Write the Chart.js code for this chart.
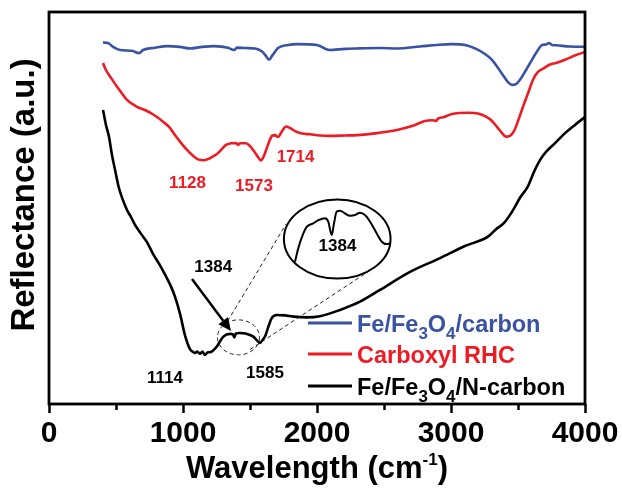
<!DOCTYPE html>
<html><head><meta charset="utf-8">
<script src="https://cdn.jsdelivr.net/npm/chart.js@4/dist/chart.umd.min.js"></script>
<style>html,body{margin:0;padding:0;background:#fff}#wrap{width:622px;height:488px}</style>
</head><body><div id="wrap"><canvas id="c" width="622" height="488"></canvas></div>
<script>
// ---- data (wavenumber, arbitrary reflectance units) ----
const xTicks = [0, 1000, 2000, 3000, 4000];
const minorTicks = [500, 1500, 2500, 3500];
const seriesLabels = ['Fe/Fe3O4/carbon', 'Carboxyl RHC', 'Fe/Fe3O4/N-carbon'];

const blueX = [403,440,478,530,619,672,701,791,881,978,1052,1142,1231,1336,1381,1403,1470,1537,1590,1619,1642,1664,1709,1784,1858,2000,2090,2209,2299,2470,2597,2769,2896,3007,3104,3187,3254,3306,3351,3396,3425,3455,3485,3515,3560,3604,3649,3679,3709,3731,3754,3784,3888,4000];
const blueY = [92.2,92.1,91.1,90.3,90.1,89.5,90.3,90.9,91.3,91.1,90.7,91.1,91.3,90.9,90.3,90.9,90.8,90.7,89.9,88.8,87.8,88.8,90.8,91.6,91.8,91.6,90.3,90.6,90.7,90.8,90.7,91.2,91.6,91.8,91.6,90.6,89.3,87.8,85.7,83.5,82.1,81.4,81.6,82.7,85.2,87.8,90.3,91.6,91.7,92.1,91.6,91.5,91.2,91.1];

const redX = [403,425,463,515,582,657,716,761,806,851,896,940,985,1030,1075,1112,1157,1201,1231,1261,1291,1321,1358,1396,1410,1425,1470,1500,1530,1560,1582,1604,1634,1664,1687,1709,1739,1769,1799,1836,1888,1948,2022,2090,2209,2299,2448,2597,2709,2806,2858,2888,2903,2948,3007,3127,3201,3261,3306,3343,3381,3410,3440,3470,3500,3537,3575,3612,3649,3694,3739,3784,3851,3925,4000];
const redY = [87.0,85.2,83.2,80.6,77.6,75.8,75.0,74.2,73.2,72.0,70.7,68.6,66.6,64.8,63.3,62.4,62.2,62.7,63.3,64.0,65.1,66.1,66.5,66.6,66.1,66.5,66.5,65.8,64.5,63.0,62.1,63.3,66.1,68.4,68.6,68.1,69.6,70.8,70.4,69.6,69.0,68.8,68.5,68.4,68.5,68.6,69.1,69.9,70.9,72.2,72.4,72.2,72.8,73.2,74.0,74.3,74.1,73.3,72.2,70.7,69.1,68.2,68.4,69.6,72.2,75.8,79.3,82.7,84.7,85.7,86.6,87.0,87.8,88.9,89.8];

const blackX = [403,425,448,470,493,522,552,582,612,642,687,731,776,821,866,910,940,978,1015,1052,1075,1090,1105,1127,1145,1164,1185,1201,1251,1301,1351,1372,1383,1395,1420,1475,1525,1550,1575,1595,1612,1640,1662,1699,1760,1823,1923,2022,2172,2321,2470,2694,2918,3104,3276,3336,3396,3455,3515,3575,3619,3664,3709,3784,3851,3925,4000];
const blackY = [75.0,71.2,68.1,63.5,59.7,55.1,52.0,49.5,47.7,45.7,43.4,41.3,38.3,35.8,33.0,30.0,27.4,23.0,17.5,14.0,13.3,13.0,13.4,12.8,13.4,12.5,13.2,13.2,14.6,17.2,17.9,17.8,17.0,18.0,18.1,17.9,17.2,16.3,15.6,16.4,17.2,20.0,21.9,22.7,22.6,22.3,22.1,22.4,24.0,26.1,29.1,33.7,37.2,40.3,42.7,44.6,46.2,49.0,52.6,55.6,59.2,62.2,64.3,66.8,69.1,71.2,73.2];

// magnified inset of the 1384 region (drawn in plot coordinates inside the circle)
const insetX = [1836,1860,1898,1923,1972,2010,2060,2084,2110,2127,2147,2172,2209,2246,2284,2321,2358,2396,2446,2483,2520,2545];
const insetY = [36.3,39.7,43.5,45.2,46.1,46.9,47.4,46.5,43.1,46.1,49.1,49.3,48.6,48.0,48.2,48.8,48.2,46.5,43.5,41.4,40.8,41.0];

const peakLabels = ['1128', '1573', '1714', '1114', '1585', '1384', '1384'];
const peakLabelX = [1034, 1530, 1840, 866, 1612, 1226, 2153];
const peakLabelY = [56.4, 55.6, 63.0, 6.6, 7.9, 34.8, 40.1];
const peakLabelSeries = [1, 1, 1, 2, 2, 2, 2];

const colors = ['#3953a4', '#ed1c24', '#000000'];
const FONT = "'Liberation Sans', Arial, sans-serif";

const pts = (xs, ys) => xs.map((v, i) => ({ x: v, y: ys[i] }));

const decor = {
  id: 'decor',
  afterDatasetsDraw(chart) {
    const { ctx, chartArea: a, scales: { x, y } } = chart;
    const px = v => x.getPixelForValue(v), py = v => y.getPixelForValue(v);
    ctx.save();
    // frame
    ctx.strokeStyle = '#000';
    ctx.lineWidth = 2.8;
    ctx.strokeRect(a.left, a.top, a.right - a.left, a.bottom - a.top);
    // minor ticks
    ctx.lineWidth = 2.5;
    minorTicks.forEach(t => {
      ctx.beginPath(); ctx.moveTo(Math.round(px(t)) + 0.5, a.bottom); ctx.lineTo(Math.round(px(t)) + 0.5, a.bottom + 6); ctx.stroke();
    });

    // inset circle
    const ell = (cx, cy, rw, rv) => {
      const X = px(cx), Y = py(cy);
      ctx.beginPath();
      ctx.ellipse(X, Y, px(cx + rw) - X, py(cy - rv) - Y, 0, 0, Math.PI * 2);
      ctx.stroke();
    };
    ctx.lineWidth = 2;
    ctx.setLineDash([]);
    ell(2151, 42.1, 398, 10.1);
    // small dashed ellipse + connecting dashed lines
    ctx.lineWidth = 1;
    ctx.strokeStyle = '#222';
    ctx.setLineDash([4, 3]);
    ell(1414, 17.0, 157, 4.46);
    const seg = (x1, y1, x2, y2) => { ctx.beginPath(); ctx.moveTo(px(x1), py(y1)); ctx.lineTo(px(x2), py(y2)); ctx.stroke(); };
    seg(1306, 19.6, 1769, 45.9);
    seg(1500, 13.9, 2366, 33.4);
    ctx.setLineDash([]);

    // arrow to 1384
    const ax1 = px(1067), ay1 = py(31.9), ax2 = px(1358), ay2 = py(18.6);
    const ang = Math.atan2(ay2 - ay1, ax2 - ax1);
    const hl = 13, hw = 6;
    ctx.strokeStyle = '#000';
    ctx.fillStyle = '#000';
    ctx.lineWidth = 2.5;
    ctx.beginPath(); ctx.moveTo(ax1, ay1);
    ctx.lineTo(ax2 - Math.cos(ang) * hl, ay2 - Math.sin(ang) * hl); ctx.stroke();
    ctx.beginPath();
    ctx.moveTo(ax2, ay2);
    ctx.lineTo(ax2 - Math.cos(ang) * hl - Math.sin(ang) * hw, ay2 - Math.sin(ang) * hl + Math.cos(ang) * hw);
    ctx.lineTo(ax2 - Math.cos(ang) * hl + Math.sin(ang) * hw, ay2 - Math.sin(ang) * hl - Math.cos(ang) * hw);
    ctx.closePath(); ctx.fill();

    // peak labels
    ctx.font = 'bold 17px ' + FONT;
    ctx.textAlign = 'center';
    ctx.textBaseline = 'middle';
    peakLabels.forEach((t, i) => {
      ctx.fillStyle = colors[peakLabelSeries[i]];
      ctx.fillText(t, px(peakLabelX[i]), py(peakLabelY[i]));
    });

    // legend (digits rendered as subscripts)
    const drawRich = (text, x0, base, size, color) => {
      ctx.fillStyle = color;
      ctx.textAlign = 'left';
      ctx.textBaseline = 'alphabetic';
      let xx = x0;
      text.split(/(\d)/).forEach(part => {
        if (!part) return;
        const sub = /^\d$/.test(part);
        ctx.font = 'bold ' + (sub ? Math.round(size * 0.74) : size) + 'px ' + FONT;
        ctx.fillText(part, xx, base + (sub ? 7 : 0));
        xx += ctx.measureText(part).width;
      });
    };
    const rows = [323, 354, 386];
    seriesLabels.forEach((lab, i) => {
      ctx.strokeStyle = colors[i];
      ctx.lineWidth = 2.8;
      ctx.beginPath(); ctx.moveTo(308, rows[i]); ctx.lineTo(352, rows[i]); ctx.stroke();
      drawRich(lab, 357, rows[i] + 8.5, 23.5, colors[i]);
    });

    // axis titles
    ctx.fillStyle = '#000';
    ctx.textBaseline = 'alphabetic';
    ctx.font = 'bold 31px ' + FONT;
    const p1 = 'Wavelength (cm', sup = '-1', p3 = ')';
    const w1 = ctx.measureText(p1).width, w3 = ctx.measureText(p3).width;
    ctx.font = 'bold 17px ' + FONT;
    const w2 = ctx.measureText(sup).width;
    let tx = (a.left + a.right) / 2 - (w1 + w2 + w3) / 2;
    const tb = 478;
    ctx.font = 'bold 31px ' + FONT; ctx.textAlign = 'left';
    ctx.fillText(p1, tx, tb); tx += w1;
    ctx.font = 'bold 17px ' + FONT; ctx.fillText(sup, tx, tb - 13); tx += w2;
    ctx.font = 'bold 31px ' + FONT; ctx.fillText(p3, tx, tb);

    ctx.save();
    ctx.translate(34, 195);
    ctx.rotate(-Math.PI / 2);
    ctx.textAlign = 'center';
    ctx.font = 'bold 33px ' + FONT;
    ctx.fillText('Reflectance (a.u.)', 0, 0);
    ctx.restore();

    ctx.restore();
  }
};

const ds = (label, xs, ys, color, w) => ({
  label, data: pts(xs, ys), borderColor: color, backgroundColor: color,
  borderWidth: w, pointRadius: 0, fill: false, tension: 0, cubicInterpolationMode: 'monotone'
});

new Chart(document.getElementById('c'), {
  type: 'line',
  data: {
    datasets: [
      ds(seriesLabels[0], blueX, blueY, colors[0], 2.6),
      ds(seriesLabels[1], redX, redY, colors[1], 2.6),
      ds(seriesLabels[2], blackX, blackY, colors[2], 2.6),
      ds('inset', insetX, insetY, '#000', 2)
    ]
  },
  options: {
    responsive: false,
    animation: false,
    devicePixelRatio: 1,
    layout: { padding: { left: 49, right: 37, top: 12, bottom: 0 } },
    plugins: { legend: { display: false }, tooltip: { enabled: false } },
    scales: {
      x: {
        type: 'linear', min: 0, max: 4000,
        afterBuildTicks: s => { s.ticks = xTicks.map(v => ({ value: v })); },
        afterFit: s => { s.height = 84; },
        grid: { drawOnChartArea: false, drawTicks: true, tickLength: 9, tickWidth: 2.5, tickColor: '#000' },
        border: { display: false },
        ticks: { color: '#000', padding: 3, maxRotation: 0, autoSkip: false, callback: v => String(v),
                 font: { family: FONT, size: 30, weight: 'bold' } }
      },
      y: { display: false, min: 0, max: 100 }
    }
  },
  plugins: [decor]
});
</script></body></html>
